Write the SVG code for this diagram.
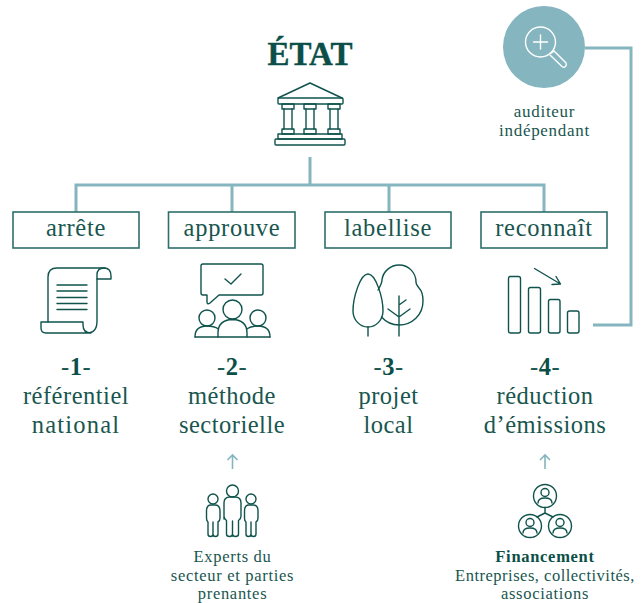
<svg xmlns="http://www.w3.org/2000/svg" width="642" height="603" viewBox="0 0 642 603">
<style>
text{font-family:"Liberation Serif",serif;fill:#19564f;text-anchor:middle}
.t{font-size:33px;font-weight:bold;fill:#0b4f48;stroke:#0b4f48;stroke-width:.4px}
.b{font-size:24.500px;letter-spacing:.7px}
.n{font-size:24.500px;letter-spacing:.5px}
.w{letter-spacing:1.200px}
.s{font-size:16.500px;letter-spacing:.7px}
.e{font-size:16.500px;letter-spacing:.5px}
.u{font-size:17px;letter-spacing:.7px}
.h{font-weight:bold;fill:#0b4f48}
.ic{fill:none;stroke:#0f534c;stroke-width:1.4;stroke-linejoin:round;stroke-linecap:round}
.box{fill:#fff;stroke:#2f6f6a;stroke-width:1.6}
.c{fill:none;stroke:#85b5bf;stroke-width:3}
.a{fill:none;stroke:#85b5bf;stroke-width:1.600}
</style>
<g id="connectors">
<path class="c" d="M310 157V185M76 212V185H544V212M232 185V212M389 185V212"/>
<path class="c" d="M585 48H631V325H593"/>
<path class="a" d="M232.500 469V455M227.500 460L232.500 455L237.500 460"/>
<path class="a" d="M545 469V455M540 460L545 455L550 460"/>
</g>
<g id="etat">
<text class="t" x="310" y="65">ÉTAT</text>
<g class="ic">
<path d="M278 98L310 83L342 98"/>
<rect x="278" y="98" width="65" height="6" rx="1"/>
<path d="M282 104h12v5h-12zM304 104h12v5h-12zM328 104h12v5h-12z"/>
<path d="M284 109v20M292 109v20M306 109v20M314 109v20M330 109v20M338 109v20"/>
<path d="M282 129h12v5h-12zM304 129h12v5h-12zM328 129h12v5h-12z"/>
<rect x="278" y="134" width="64" height="5"/>
<rect x="275" y="139" width="70" height="6" rx="1"/>
</g>
</g>
<g id="auditeur">
<circle cx="544" cy="47" r="41" fill="#85b5bf"/>
<g fill="none" stroke="#fff" stroke-width="1.4" stroke-linecap="round">
<circle cx="540.500" cy="42" r="15"/>
<path d="M533.500 42H547.500M540.500 35V49"/>
<path d="M551.500 53L554 51L566 63Q567 65 565.500 66.500Q564 68 562 66.500L550 55"/>
</g>
<text class="u" x="544.500" y="117">auditeur</text>
<text class="u" x="544.500" y="136">indépendant</text>
</g>
<g id="arrete">
<rect class="box" x="13" y="212" width="126" height="36"/>
<text class="b" x="76" y="236">arrête</text>
<g class="ic">
<path d="M48 322V277Q48 268 57 268H105"/>
<path d="M97 279V275Q97 268 104 268Q111 268 111 276V279Z"/>
<path d="M97 279V321Q97 333 87 333H46Q41 333 41 328V322H83V325Q83 333 91 333"/>
<path d="M57 285H87M57 291H87M57 297.500H87M57 303.500H87M57 309.500H87"/>
</g>
<text class="n" x="76" y="375">-<tspan class="h">1</tspan>-</text>
<text class="n" x="76" y="404">référentiel</text>
<text class="n w" x="76" y="433">national</text>
</g>
<g id="approuve">
<rect class="box" x="168.500" y="212" width="126.500" height="36"/>
<text class="b" x="232" y="236">approuve</text>
<g class="ic">
<path d="M203 264H261Q263 264 263 266V293Q263 295 261 295H219L210 303Q207 305 207 302V295H203Q201 295 201 293V266Q201 264 203 264Z"/>
<path d="M225 279L231 284L241 274"/>
<circle cx="232.500" cy="309.500" r="9.500"/>
<circle cx="207" cy="318" r="8"/>
<circle cx="258" cy="318" r="8"/>
<path d="M218 337V333Q218 320 232.500 319.500Q247 320 247 333V337"/>
<path d="M195 337Q195 326 207 326Q214 326 218.500 329M270 337Q270 326 258 326Q251 326 246.500 329"/>
<path d="M195 337H270"/>
</g>
<text class="n" x="232" y="375">-<tspan class="h">2</tspan>-</text>
<text class="n" x="232" y="404">méthode</text>
<text class="n" x="232" y="433">sectorielle</text>
</g>
<g id="labellise">
<rect class="box" x="325" y="212" width="126" height="36"/>
<text class="b" x="388" y="236">labellise</text>
<g class="ic">
<path d="M368 274C360 274 353 298 353 311C353 320 360 327 368 327C376 327 383 320 383 311C383 298 376 274 368 274Z"/>
<path d="M368 327V336"/>
<path d="M378 290C381 285 382 283 382 280C383 271 391 265 399 265C409 265 416 273 416 282C416 285 417 285 419 288C422 291 423 296 423 301C423 315 412 325 399 325C392 325 386 322 381.500 317"/>
<path d="M399 296V336M399 317L388 309M399 317L410 309M399 305L406 300"/>
</g>
<text class="n" x="388.500" y="375">-<tspan class="h">3</tspan>-</text>
<text class="n" x="388.500" y="404">projet</text>
<text class="n" x="388.500" y="433">local</text>
</g>
<g id="reconnait">
<rect class="box" x="481" y="212" width="126" height="36"/>
<text class="b" x="544" y="236">reconnaît</text>
<g class="ic">
<rect x="508.500" y="276.500" width="12" height="56.500" rx="2"/>
<rect x="528.500" y="287.500" width="12" height="45.500" rx="2"/>
<rect x="548.500" y="299.500" width="11.500" height="33.500" rx="2"/>
<rect x="567.500" y="311" width="11.500" height="22" rx="2"/>
<path d="M534.500 268.500L560.500 284M552 284.500L560.500 284L556 276.500"/>
</g>
<text class="n" x="545" y="375">-<tspan class="h">4</tspan>-</text>
<text class="n" x="545" y="404">réduction</text>
<text class="n" x="545" y="433">d’émissions</text>
</g>
<g id="experts">
<g class="ic">
<circle cx="232.500" cy="491" r="6"/>
<path d="M232.500 536V521M224 519V503Q224 497 230 497H235Q241 497 241 503V516Q241 519 238.500 520.500V534Q238.500 536.500 235.500 536.500Q232.500 536.500 232.500 534Q232.500 536.500 229.500 536.500Q226.500 536.500 226.500 534V520.500Q224 519 224 516Z"/>
<circle cx="213" cy="499" r="5"/>
<path d="M213 536V522M206.500 511Q206.500 505 211 505H215Q220 505 220 511V518Q220 521 218 522V534Q218 536.500 215.500 536.500Q213 536.500 213 534Q213 536.500 210.500 536.500Q208 536.500 208 534V522Q206.500 521 206.500 518Z"/>
<circle cx="251" cy="499" r="5"/>
<path d="M251 536V522M244.500 511Q244.500 505 249 505H253Q258 505 258 511V518Q258 521 256 522V534Q256 536.500 253.500 536.500Q251 536.500 251 534Q251 536.500 248.500 536.500Q246 536.500 246 534V522Q244.500 521 244.500 518Z"/>
</g>
<text class="s" x="232.500" y="562">Experts du</text>
<text class="s" x="232.500" y="580.500">secteur et parties</text>
<text class="s" x="232.500" y="599">prenantes</text>
</g>
<g id="financement">
<g class="ic">
<circle cx="545" cy="496" r="11.500"/>
<circle cx="545" cy="492.500" r="4"/>
<path d="M538 503Q538 498 545 498Q552 498 552 503"/>
<circle cx="530" cy="526" r="11.500"/>
<circle cx="530" cy="522.500" r="4"/>
<path d="M523 533Q523 528 530 528Q537 528 537 533"/>
<circle cx="560" cy="526" r="11.500"/>
<circle cx="560" cy="522.500" r="4"/>
<path d="M553 533Q553 528 560 528Q567 528 567 533"/>
<path d="M545 507.500V513M545 513L537 517M545 513L553 517"/>
</g>
<text class="s h" x="545" y="562">Financement</text>
<text class="e" x="545" y="580.500">Entreprises, collectivités,</text>
<text class="s" x="545" y="599">associations</text>
</g>
</svg>
